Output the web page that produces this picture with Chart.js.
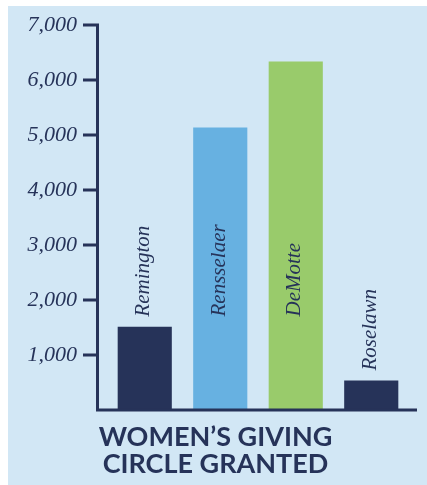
<!DOCTYPE html>
<html lang="en">
<head>
    <meta charset="UTF-8">
    <meta name="viewport" content="width=device-width, initial-scale=1.0">
    <title>Women's Giving Circle Granted</title>
    <script src="https://cdn.jsdelivr.net/npm/chart.js"></script>
    <style>
        html, body { margin: 0; padding: 0; background: #fff; }
    </style>
</head>
<body>
    <canvas id="chart" width="427" height="485"></canvas>
    <script>
        const towns = ['Remington', 'Rensselaer', 'DeMotte', 'Roselawn'];
        const granted = [1515, 5135, 6335, 535];
        const barColors = ['#263359', '#67b1e1', '#99cb6b', '#263359'];
        const yTicks = [0, 1000, 2000, 3000, 4000, 5000, 6000, 7000];
        const titleLines = ['WOMEN\u2019S GIVING', 'CIRCLE GRANTED'];

        const navy = '#263359';
        const serif = '"Liberation Serif", "DejaVu Serif", serif';

        // light blue panel behind everything
        const panel = {
            id: 'panel',
            beforeDraw(chart) {
                const ctx = chart.ctx;
                ctx.save();
                ctx.fillStyle = '#d2e7f5';
                ctx.fillRect(8, 6, chart.width - 8, chart.height - 6);
                ctx.restore();
            }
        };

        // axis lines and tick marks
        const axes = {
            id: 'axes',
            afterDatasetsDraw(chart) {
                const ctx = chart.ctx;
                const y = chart.scales.y;
                const x0 = 97.5;
                const base = y.getPixelForValue(0);
                const top = y.getPixelForValue(yTicks[yTicks.length - 1]);
                ctx.save();
                ctx.strokeStyle = navy;
                ctx.lineWidth = 3;
                ctx.beginPath();
                ctx.moveTo(x0, top - 1.5);
                ctx.lineTo(x0, base);
                ctx.lineTo(417, base);
                yTicks.slice(1).forEach(v => {
                    const py = y.getPixelForValue(v);
                    ctx.moveTo(83, py);
                    ctx.lineTo(x0, py);
                });
                ctx.stroke();
                ctx.restore();
            }
        };

        // town names written upward, starting just above short bars
        // and at a common line inside the tall ones
        const barLabels = {
            id: 'barLabels',
            afterDatasetsDraw(chart) {
                const ctx = chart.ctx;
                const meta = chart.getDatasetMeta(0);
                const lowest = chart.scales.y.getPixelForValue(1700);
                ctx.save();
                ctx.font = 'italic 21px ' + serif;
                ctx.fillStyle = navy;
                ctx.textAlign = 'left';
                ctx.textBaseline = 'middle';
                meta.data.forEach((bar, i) => {
                    ctx.save();
                    ctx.translate(bar.x - 1, Math.max(bar.y - 10, lowest));
                    ctx.rotate(-Math.PI / 2);
                    ctx.fillText(chart.data.labels[i], 0, 0);
                    ctx.restore();
                });
                ctx.restore();
            }
        };

        const ctx = document.getElementById('chart').getContext('2d');
        new Chart(ctx, {
            type: 'bar',
            data: {
                labels: towns,
                datasets: [{
                    data: granted,
                    backgroundColor: barColors,
                    borderWidth: 0,
                    categoryPercentage: 1,
                    barPercentage: 0.717,
                }]
            },
            options: {
                responsive: false,
                animation: false,
                layout: { padding: { left: 22, right: 18, top: 25, bottom: 0 } },
                plugins: {
                    legend: { display: false },
                    tooltip: { enabled: false },
                    title: {
                        display: true,
                        position: 'bottom',
                        text: titleLines,
                        color: navy,
                        font: { family: 'Lato, "DejaVu Sans", sans-serif', size: 27, weight: 'bold', lineHeight: 1 },
                        padding: { top: 14, bottom: 7 },
                    }
                },
                scales: {
                    x: { display: false, offset: true },
                    y: {
                        min: 0,
                        max: 7000,
                        afterFit(scale) {
                            scale.width = 85;
                            scale.paddingTop = 0;
                            scale.paddingBottom = 0;
                        },
                        grid: { display: false, drawTicks: false },
                        border: { display: false },
                        ticks: {
                            stepSize: 1000,
                            padding: 30,
                            color: navy,
                            font: { family: serif, size: 22, style: 'italic' },
                            callback: v => v === 0 ? '' : v.toLocaleString('en-US'),
                        }
                    }
                }
            },
            plugins: [panel, axes, barLabels]
        });
    </script>
</body>
</html>
